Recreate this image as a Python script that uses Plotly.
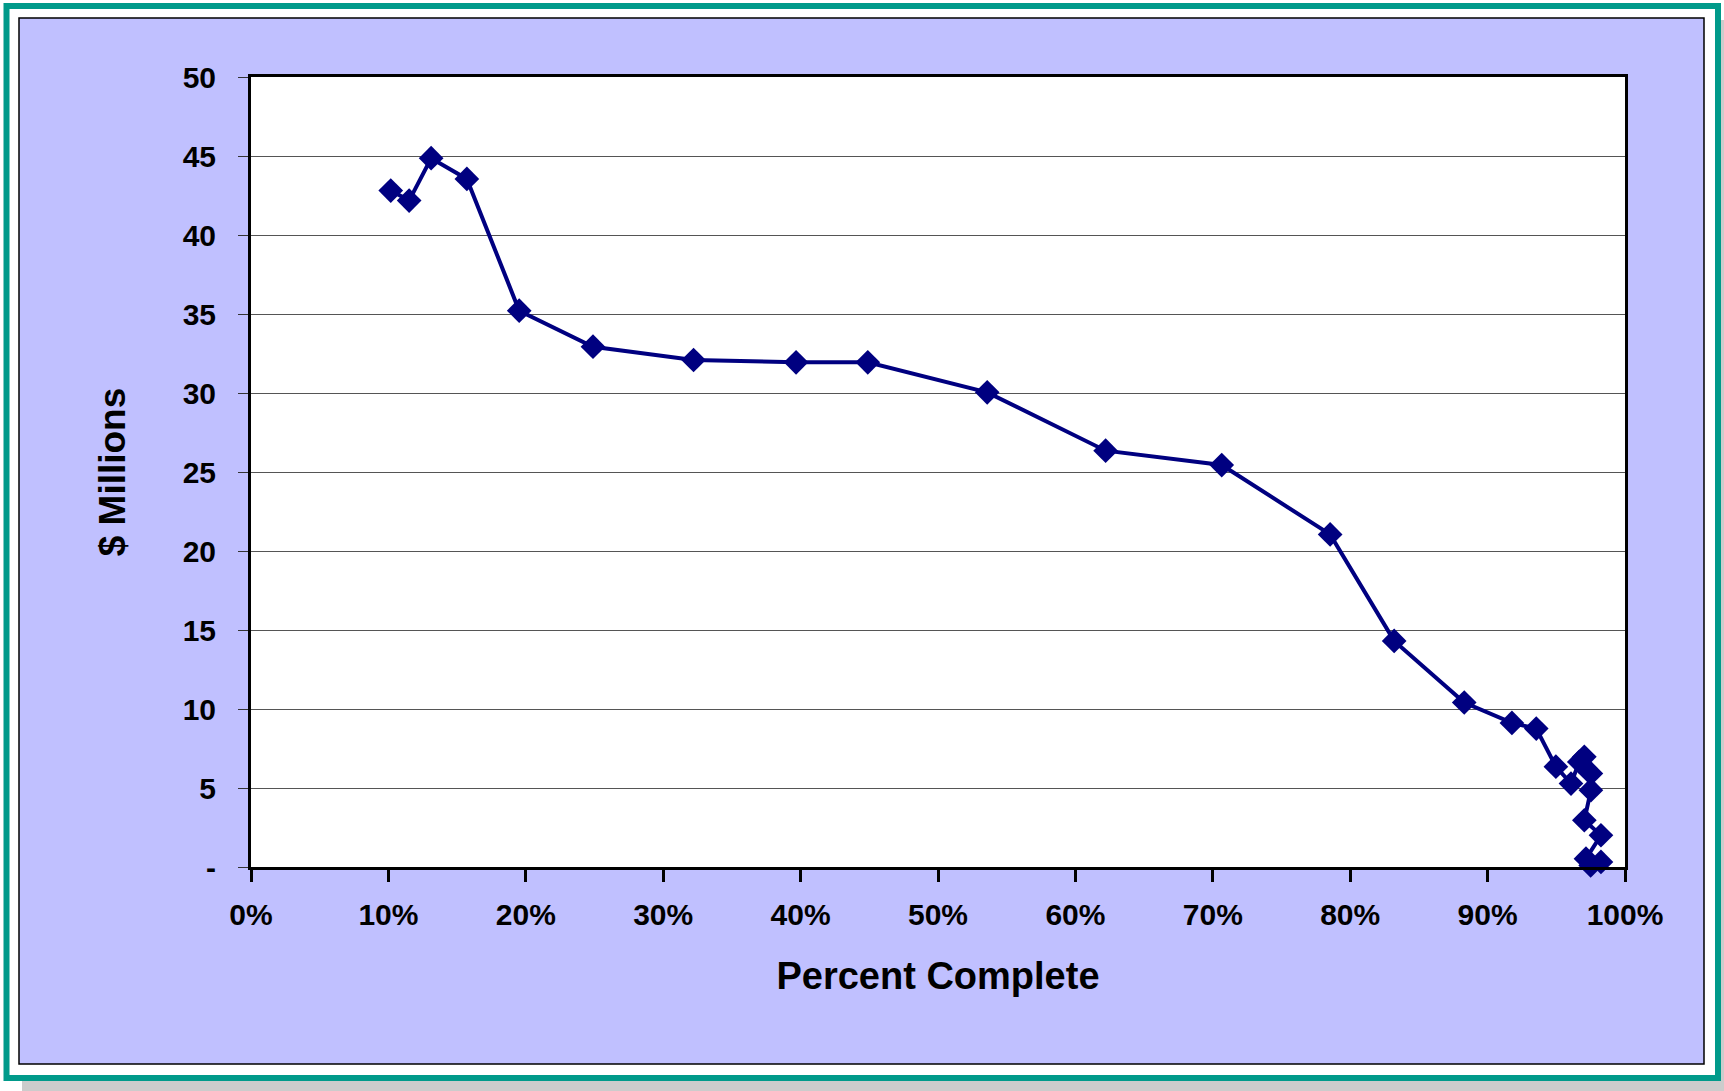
import plotly.graph_objects as go

# Data
percent_complete = [10.17, 11.51, 13.11, 15.71, 19.52, 24.89, 32.21, 39.67, 44.89,
                    53.58, 62.20, 70.65, 78.54, 83.20, 88.30, 91.77, 93.54, 94.97,
                    96.07, 96.67, 97.04, 97.52, 97.52, 97.04, 98.25, 97.16, 98.25, 97.50]
millions = [42.81, 42.18, 44.86, 43.55, 35.21, 32.93, 32.09, 31.94, 31.94,
            30.04, 26.35, 25.44, 21.05, 14.31, 10.41, 9.12, 8.76, 6.35,
            5.28, 6.65, 6.97, 5.92, 4.86, 2.96, 2.01, 0.53, 0.32, 0.10]

y_tickvals = [0, 5, 10, 15, 20, 25, 30, 35, 40, 45, 50]
y_ticktext = ["-", "5", "10", "15", "20", "25", "30", "35", "40", "45", "50"]
x_tickvals = [0, 10, 20, 30, 40, 50, 60, 70, 80, 90, 100]
x_ticktext = [f"{v}%" for v in x_tickvals]

W, H = 1724, 1091
L, R, T, B = 251, 1724 - 1625, 77, 1091 - 867
PW, PH = W - L - R, H - T - B


def px_x(p):
    return (p - L) / PW


def px_y(p):
    return (H - B - p) / PH


FONT = "Liberation Sans, Arial, sans-serif"
NAVY = "#000080"
LAV = "#C0C0FF"
TEAL = "#009A8A"

fig = go.Figure()
fig.add_trace(go.Scatter(
    x=percent_complete, y=millions, mode="lines+markers",
    line=dict(color=NAVY, width=4),
    marker=dict(symbol="diamond", size=19, color=NAVY),
    cliponaxis=False, showlegend=False,
))

shapes = [
    # grey drop shadow
    dict(type="rect", xref="paper", yref="paper", layer="below",
         x0=px_x(22), x1=px_x(1730), y0=px_y(20), y1=px_y(1100),
         fillcolor="#CCCCCC", line=dict(width=0)),
    # white card
    dict(type="rect", xref="paper", yref="paper", layer="below",
         x0=px_x(-5), x1=px_x(1721), y0=px_y(-5), y1=px_y(1081),
         fillcolor="white", line=dict(width=0)),
    # teal frame
    dict(type="rect", xref="paper", yref="paper", layer="below",
         x0=px_x(6.5), x1=px_x(1718), y0=px_y(6), y1=px_y(1078),
         fillcolor="rgba(0,0,0,0)", line=dict(color=TEAL, width=6)),
    # lavender chart area
    dict(type="rect", xref="paper", yref="paper", layer="below",
         x0=px_x(19), x1=px_x(1704), y0=px_y(18), y1=px_y(1064),
         fillcolor=LAV, line=dict(color="black", width=1.5)),
    # white plot area
    dict(type="rect", xref="paper", yref="paper", layer="below",
         x0=0, x1=1, y0=0, y1=1,
         fillcolor="white", line=dict(width=0)),
]

fig.update_layout(
    width=W, height=H,
    margin=dict(l=L, r=R, t=T, b=B, autoexpand=False),
    paper_bgcolor="white", plot_bgcolor="white",
    shapes=shapes,
    font=dict(family=FONT, color="black"),
    xaxis=dict(
        range=[0, 100], tickvals=x_tickvals, ticktext=x_ticktext,
        ticks="outside", ticklen=12, tickwidth=2.5, tickcolor="black",
        ticklabelstandoff=7,
        showline=True, linewidth=3, linecolor="black", mirror=True,
        showgrid=False, zeroline=False,
        tickfont=dict(family=FONT, size=30, weight="bold", color="black"),
        title=dict(text="Percent Complete", standoff=33,
                   font=dict(family=FONT, size=38, weight="bold", color="black")),
    ),
    yaxis=dict(
        range=[0, 50], tickvals=y_tickvals, ticktext=y_ticktext,
        ticks="outside", ticklen=10, tickwidth=1.2, tickcolor="#333333",
        ticklabelstandoff=16,
        showline=True, linewidth=3, linecolor="black", mirror=True,
        showgrid=True, gridcolor="#555555", gridwidth=1.2, zeroline=False,
        tickfont=dict(family=FONT, size=30, weight="bold", color="black"),
        title=dict(text="$ Millions", standoff=46,
                   font=dict(family=FONT, size=37, weight="bold", color="black")),
    ),
)

fig.write_html("out.html", config={"displayModeBar": False},
               post_script="document.body.style.margin='0';")
